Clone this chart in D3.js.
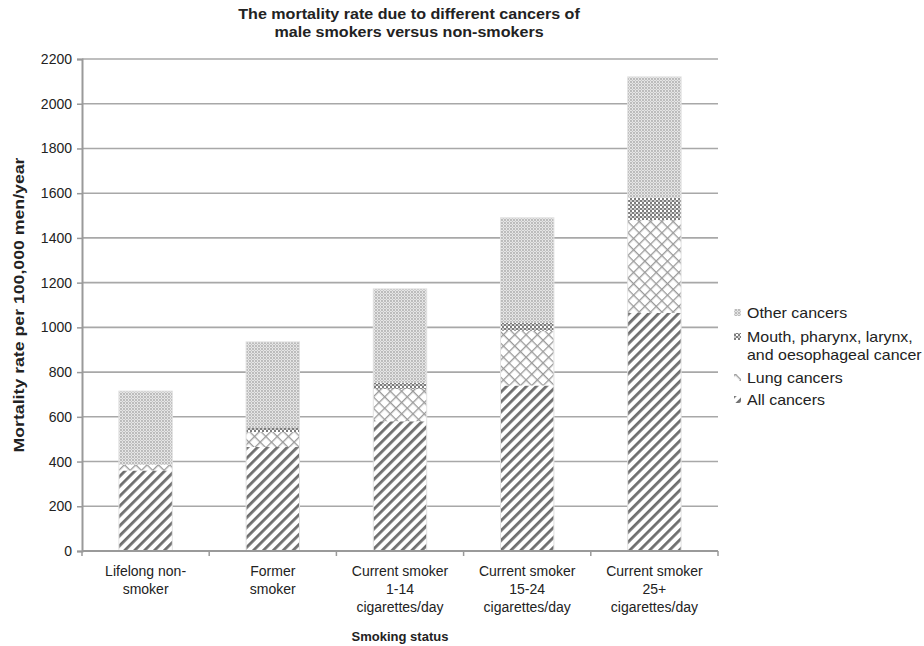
<!DOCTYPE html>
<html>
<head>
<meta charset="utf-8">
<script src="https://cdn.jsdelivr.net/npm/d3@7"></script>
<style>
  html, body { margin: 0; padding: 0; background: #fff; }
  svg { display: block; font-family: "Liberation Sans", Arial, sans-serif; }
</style>
</head>
<body>
<svg id="chart" width="924" height="646"></svg>
<script>
// Smoking status groups (x-axis), each label split into lines
const categories = ["Lifelong non-smoker", "Former smoker", "Current smoker 1-14", "Current smoker 15-24", "Current smoker 25+"];
const categoryLines = [
  ["Lifelong non-", "smoker"],
  ["Former", "smoker"],
  ["Current smoker", "1-14", "cigarettes/day"],
  ["Current smoker", "15-24", "cigarettes/day"],
  ["Current smoker", "25+", "cigarettes/day"]
];

// Stacked segments, bottom to top (deaths per 100,000 men per year)
const allCancers   = [360, 465, 580, 740, 1065];
const lungCancers  = [25, 67, 145, 245, 415];
const mouthCancers = [0, 18, 27, 35, 100];
const otherCancers = [330, 385, 420, 470, 540];

const seriesNames = ["All cancers", "Lung cancers", "Mouth, pharynx, larynx, and oesophageal cancer", "Other cancers"];
const yTicks = [0, 200, 400, 600, 800, 1000, 1200, 1400, 1600, 1800, 2000, 2200];

const svg = d3.select("#chart");
const margin = { left: 82, right: 206, top: 59, bottom: 95 };
const W = 924, H = 646;

const x = d3.scaleBand().domain(categories).range([margin.left, W - margin.right]).paddingInner(0.58).paddingOuter(0.29);
const y = d3.scaleLinear().domain([0, 2200]).range([H - margin.bottom, margin.top]);

// Fill patterns for each series
const defs = svg.append("defs");
function pat(id, size, rotate) {
  const p = defs.append("pattern").attr("id", id).attr("patternUnits", "userSpaceOnUse")
    .attr("width", size).attr("height", size);
  if (rotate) p.attr("patternTransform", `rotate(${rotate})`);
  p.append("rect").attr("width", size).attr("height", size).attr("fill", "#fff");
  return p;
}
// wide diagonal stripes
pat("p-all", 7, 45).append("rect").attr("x", 0).attr("y", 0).attr("width", 2.8).attr("height", 7).attr("fill", "#6e6e6e");
// open diamond lattice
const lp = pat("p-lung", 8, 45);
lp.append("rect").attr("x", 0).attr("y", 0).attr("width", 1.3).attr("height", 8).attr("fill", "#9a9a9a");
lp.append("rect").attr("x", 0).attr("y", 0).attr("width", 8).attr("height", 1.3).attr("fill", "#9a9a9a");
// dense dark checker
const mp = pat("p-mouth", 4, 0);
mp.append("rect").attr("x", 0).attr("y", 0).attr("width", 2).attr("height", 2).attr("fill", "#7d7d7d");
mp.append("rect").attr("x", 2).attr("y", 2).attr("width", 2).attr("height", 2).attr("fill", "#7d7d7d");
mp.append("rect").attr("x", 2).attr("y", 0).attr("width", 2).attr("height", 2).attr("fill", "#c8c8c8");
// fine light dots
const op = pat("p-other", 3, 0);
op.select("rect").attr("fill", "#e6e6e6");
op.append("circle").attr("cx", 1).attr("cy", 1).attr("r", 0.9).attr("fill", "#a9a9a9");
op.append("circle").attr("cx", 2.5).attr("cy", 2.5).attr("r", 0.6).attr("fill", "#c2c2c2");

const fills = ["url(#p-all)", "url(#p-lung)", "url(#p-mouth)", "url(#p-other)"];

// Gridlines
svg.append("g").selectAll("line").data(yTicks.filter(d => d > 0)).join("line")
  .attr("x1", margin.left).attr("x2", W - margin.right)
  .attr("y1", d => y(d)).attr("y2", d => y(d))
  .attr("stroke", "#a8a8a8").attr("stroke-width", 1.6);

// Stacked bars
const rows = categories.map((c, i) => ({
  cat: c, s0: allCancers[i], s1: lungCancers[i], s2: mouthCancers[i], s3: otherCancers[i]
}));
const stack = d3.stack().keys(["s0", "s1", "s2", "s3"])(rows);
svg.append("g").selectAll("g").data(stack).join("g")
  .attr("fill", (d, i) => fills[i])
  .selectAll("rect").data(d => d).join("rect")
  .attr("x", d => x(d.data.cat))
  .attr("width", x.bandwidth())
  .attr("y", d => y(d[1]))
  .attr("height", d => Math.max(0, y(d[0]) - y(d[1])));

// Faint bar outline
svg.append("g").selectAll("rect").data(rows).join("rect")
  .attr("x", d => x(d.cat)).attr("width", x.bandwidth())
  .attr("y", d => y(d.s0 + d.s1 + d.s2 + d.s3))
  .attr("height", d => y(0) - y(d.s0 + d.s1 + d.s2 + d.s3))
  .attr("fill", "none").attr("stroke", "#e2e2e2").attr("stroke-width", 1);

// Y axis
const yAxis = svg.append("g").attr("transform", `translate(${margin.left},0)`)
  .call(d3.axisLeft(y).tickValues(yTicks).tickSize(5).tickPadding(5).tickFormat(d3.format("d")));
yAxis.select(".domain").attr("stroke", "#9a9a9a").attr("stroke-width", 2);
yAxis.selectAll(".tick line").attr("stroke", "#9a9a9a").attr("stroke-width", 1.5);
yAxis.selectAll(".tick text").attr("font-size", 14).attr("fill", "#222").attr("font-family", "Liberation Sans, Arial, sans-serif");

// X axis baseline with tick marks between groups
const xg = svg.append("g");
xg.append("line").attr("x1", margin.left).attr("x2", W - margin.right)
  .attr("y1", y(0)).attr("y2", y(0)).attr("stroke", "#9a9a9a").attr("stroke-width", 2);
const bounds = d3.range(categories.length + 1).map(i => margin.left + i * (W - margin.right - margin.left) / categories.length);
xg.selectAll("line.t").data(bounds).join("line").attr("class", "t")
  .attr("x1", d => d).attr("x2", d => d).attr("y1", y(0)).attr("y2", y(0) + 5)
  .attr("stroke", "#9a9a9a").attr("stroke-width", 1.5);

// Category labels
const lab = svg.append("g").attr("font-size", 14).attr("fill", "#222").attr("text-anchor", "middle");
categories.forEach((c, i) => {
  const cx = x(c) + x.bandwidth() / 2;
  const t = lab.append("text").attr("x", cx).attr("y", 576);
  categoryLines[i].forEach((ln, j) => t.append("tspan").attr("x", cx).attr("dy", j ? 18 : 0).text(ln));
});

// Chart title (slightly widened lettering)
const title = svg.append("g").attr("transform", "translate(409,0) scale(1.15,1)")
  .append("text").attr("x", 0).attr("y", 19).attr("text-anchor", "middle")
  .attr("font-size", 14).attr("font-weight", "bold").attr("fill", "#222");
title.append("tspan").attr("x", 0).text("The mortality rate due to different cancers of");
title.append("tspan").attr("x", 0).attr("dy", 18).text("male smokers versus non-smokers");

svg.append("text").attr("x", 400).attr("y", 641).attr("text-anchor", "middle")
  .attr("font-size", 13).attr("font-weight", "bold").attr("fill", "#222").text("Smoking status");

svg.append("text").attr("transform", `translate(24,${(y(0) + y(2200)) / 2}) rotate(-90)`)
  .attr("text-anchor", "middle").attr("font-size", 15).attr("font-weight", "bold").attr("fill", "#222")
  .attr("textLength", 295).attr("lengthAdjust", "spacingAndGlyphs")
  .text("Mortality rate per 100,000 men/year");

// Legend (top item is the top of the stack)
const legendItems = [
  { fill: fills[3], lines: ["Other cancers"] },
  { fill: fills[2], lines: ["Mouth, pharynx, larynx,", "and oesophageal cancer"] },
  { fill: fills[1], lines: ["Lung cancers"] },
  { fill: fills[0], lines: ["All cancers"] }
];
const legendY = [318, 342, 383, 405];
const lg = svg.append("g");
legendItems.forEach((it, i) => {
  lg.append("rect").attr("x", 734).attr("y", legendY[i] - 9).attr("width", 7).attr("height", 7).attr("fill", it.fill);
  const t = lg.append("g").attr("transform", `translate(747,${legendY[i]}) scale(1.14,1)`)
    .append("text").attr("x", 0).attr("y", 0).attr("font-size", 14).attr("fill", "#222");
  it.lines.forEach((ln, j) => t.append("tspan").attr("x", 0).attr("dy", j ? 18 : 0).text(ln));
});
</script>
</body>
</html>
